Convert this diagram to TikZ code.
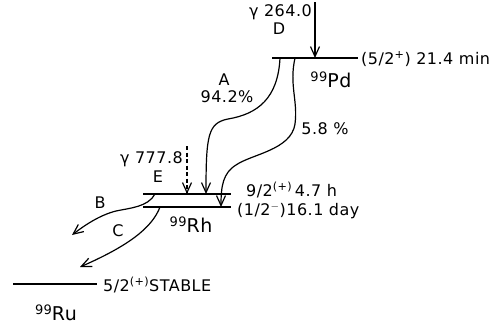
\documentclass[tikz,border=0pt]{standalone}
\usepackage{fontspec}
\setmainfont{DejaVu Sans}[LetterSpace=3]
\usetikzlibrary{arrows.meta}
\tikzset{
  lvl/.style={line width=1.5pt},
  trans/.style={line width=1.2pt,-{Straight Barb[length=10pt,width=9pt,line width=1.2pt]}},
  lbl/.style={inner sep=0pt,font=\fontsize{16}{17}\selectfont},
  nuc/.style={inner sep=0pt,font=\fontsize{19}{20}\selectfont},
}
\newcommand{\nucl}[2]{\raisebox{0.6ex}{\fontsize{13}{13}\selectfont #1}#2}
\begin{document}
\begin{tikzpicture}[x=1pt,y=-1pt]
\useasboundingbox (0,0) rectangle (500,327);
% Pd level
\coordinate (pdL) at (272,58);
\coordinate (pdR) at (358,58);
\draw[lvl] (pdL) -- (pdR);
\node[lbl,anchor=west] (pdlab) at (361,59) {(5/2\textsuperscript{+}) 21.4 min};
\node[nuc] (pdnuc) at (331,80) {\nucl{99}{Pd}};
% gamma D
\coordinate (dTop) at (315,2);
\coordinate (dEnd) at (315,58);
\draw[trans] (dTop) -- (dEnd);
\node[lbl,anchor=east] (g264) at (312,12) {γ 264.0};
\node[lbl] (dlab) at (279,29) {D};
% Rh levels
\coordinate (rhUL) at (143,194);
\coordinate (rhUR) at (231,194);
\coordinate (rhLL) at (143,207);
\coordinate (rhLR) at (231,207);
\draw[lvl] (rhUL) -- (rhUR);
\draw[lvl] (rhLL) -- (rhLR);
\node[lbl,anchor=west] (rhUlab) at (246,190) {9/2\textsuperscript{(+)}\,4.7 h};
\node[lbl,anchor=west] (rhLlab) at (237,211) {(1/2\textsuperscript{$-$})16.1 day};
\node[nuc] (rhnuc) at (191,225) {\nucl{99}{Rh}};
% gamma E
\coordinate (eTop) at (187,146);
\coordinate (eEnd) at (187,194);
\draw[trans,dashed,dash pattern=on 4pt off 2.5pt] (eTop) -- (eEnd);
\node[lbl,anchor=east] (g778) at (183,159) {γ 777.8};
\node[lbl] (elab) at (158,177) {E};
% transition A
\coordinate (aS) at (280,58);
\coordinate (aE) at (206,194);
\draw[trans] (aS) .. controls (278,98) and (258,114) .. (228,119)
  .. controls (208,123) and (206,135) .. (aE);
\node[lbl] (alab) at (224,80) {A};
\node[lbl] (apct) at (227,97) {94.2\%};
% transition 5.8
\coordinate (bS) at (295,58);
\coordinate (bE) at (221,207);
\draw[trans] (bS) .. controls (289,85) and (298,100) .. (295,124)
  .. controls (291,150) and (252,154) .. (236,165)
  .. controls (223,173) and (221,186) .. (bE);
\node[lbl] (bpct) at (325,129) {5.8 \%};
% transition B
\coordinate (cS) at (155,194);
\coordinate (cE) at (72,235);
\draw[trans] (cS) .. controls (148,207) and (130,208) .. (116,211)
  .. controls (100,215) and (85,225) .. (cE);
\node[lbl] (blab) at (100,203) {B};
% transition C
\coordinate (dS) at (160,207);
\coordinate (dE) at (80,267);
\draw[trans] (dS) .. controls (152,228) and (128,246) .. (dE);
\node[lbl] (clab) at (118,231) {C};
% Ru level
\coordinate (ruL) at (13,284);
\coordinate (ruR) at (97,284);
\draw[lvl] (ruL) -- (ruR);
\node[lbl,anchor=west] (rulab) at (103,285) {5/2\textsuperscript{(+)}STABLE};
\node[nuc] (runuc) at (56,313) {\nucl{99}{Ru}};
\end{tikzpicture}
\end{document}
